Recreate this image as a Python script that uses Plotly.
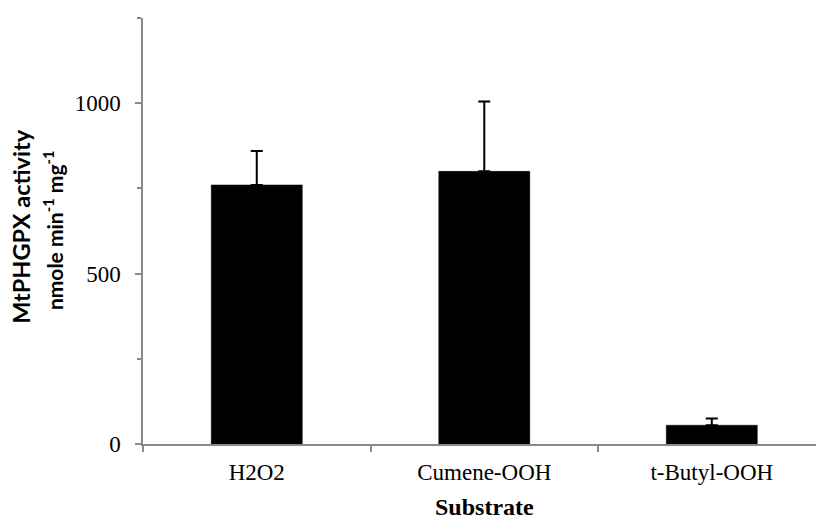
import plotly.graph_objects as go

categories = ["H2O2", "Cumene-OOH", "t-Butyl-OOH"]
activity = [760, 800, 55]
errors = [100, 205, 20]
y_tickvals = [0, 500, 1000]
y_ticktext = ["0", "500", "1000"]

fig = go.Figure()
fig.add_trace(go.Bar(
    x=categories, y=activity, width=0.4,
    marker=dict(color="black", line=dict(color="black", width=0.5)),
    error_y=dict(type="data", array=errors, arrayminus=[0, 0, 0], symmetric=False,
                 color="black", thickness=2, width=6),
))

serif = "Liberation Serif, Times New Roman, serif"
fig.update_layout(
    width=816, height=521,
    margin=dict(l=143, r=0, t=18, b=77),
    paper_bgcolor="white", plot_bgcolor="white",
    showlegend=False,
    xaxis=dict(
        type="category", range=[-0.5, 2.458],
        showline=True, linecolor="#8a8a8a", linewidth=1.5,
        ticks="outside", tickson="boundaries", ticklen=6, tickcolor="#8a8a8a", tickwidth=1.5,
        tickfont=dict(family=serif, size=23, color="black"),
        ticklabelstandoff=7,
        showgrid=False, zeroline=False,
    ),
    yaxis=dict(
        range=[0, 1250],
        showline=True, linecolor="#8a8a8a", linewidth=1.5,
        tickvals=y_tickvals, ticktext=y_ticktext,
        ticks="outside", ticklen=6, tickcolor="#8a8a8a", tickwidth=1.5,
        minor=dict(dtick=250, tick0=0, ticks="outside", ticklen=4, tickcolor="#8a8a8a", tickwidth=1.5, showgrid=False),
        tickfont=dict(family=serif, size=23, color="black"),
        ticklabelstandoff=10,
        showgrid=False, zeroline=False,
    ),
    annotations=[
        dict(text="Substrate", xref="paper", yref="paper", x=0.508, y=-0.148,
             xanchor="center", yanchor="middle", showarrow=False,
             font=dict(family=serif, size=24, color="black", weight="bold")),
        dict(text="MtPHGPX activity", xref="paper", yref="paper", x=-0.1807, y=0.5106,
             xanchor="center", yanchor="middle", showarrow=False, textangle=-90,
             font=dict(family="Lato", size=23.5, color="black", weight="bold")),
        dict(text="nmole min<sup>-1</sup> mg<sup>-1</sup>", xref="paper", yref="paper", x=-0.1338, y=0.502,
             xanchor="center", yanchor="middle", showarrow=False, textangle=-90,
             font=dict(family="Lato", size=21, color="black", weight="bold")),
    ],
)

fig.write_html("out.html")
